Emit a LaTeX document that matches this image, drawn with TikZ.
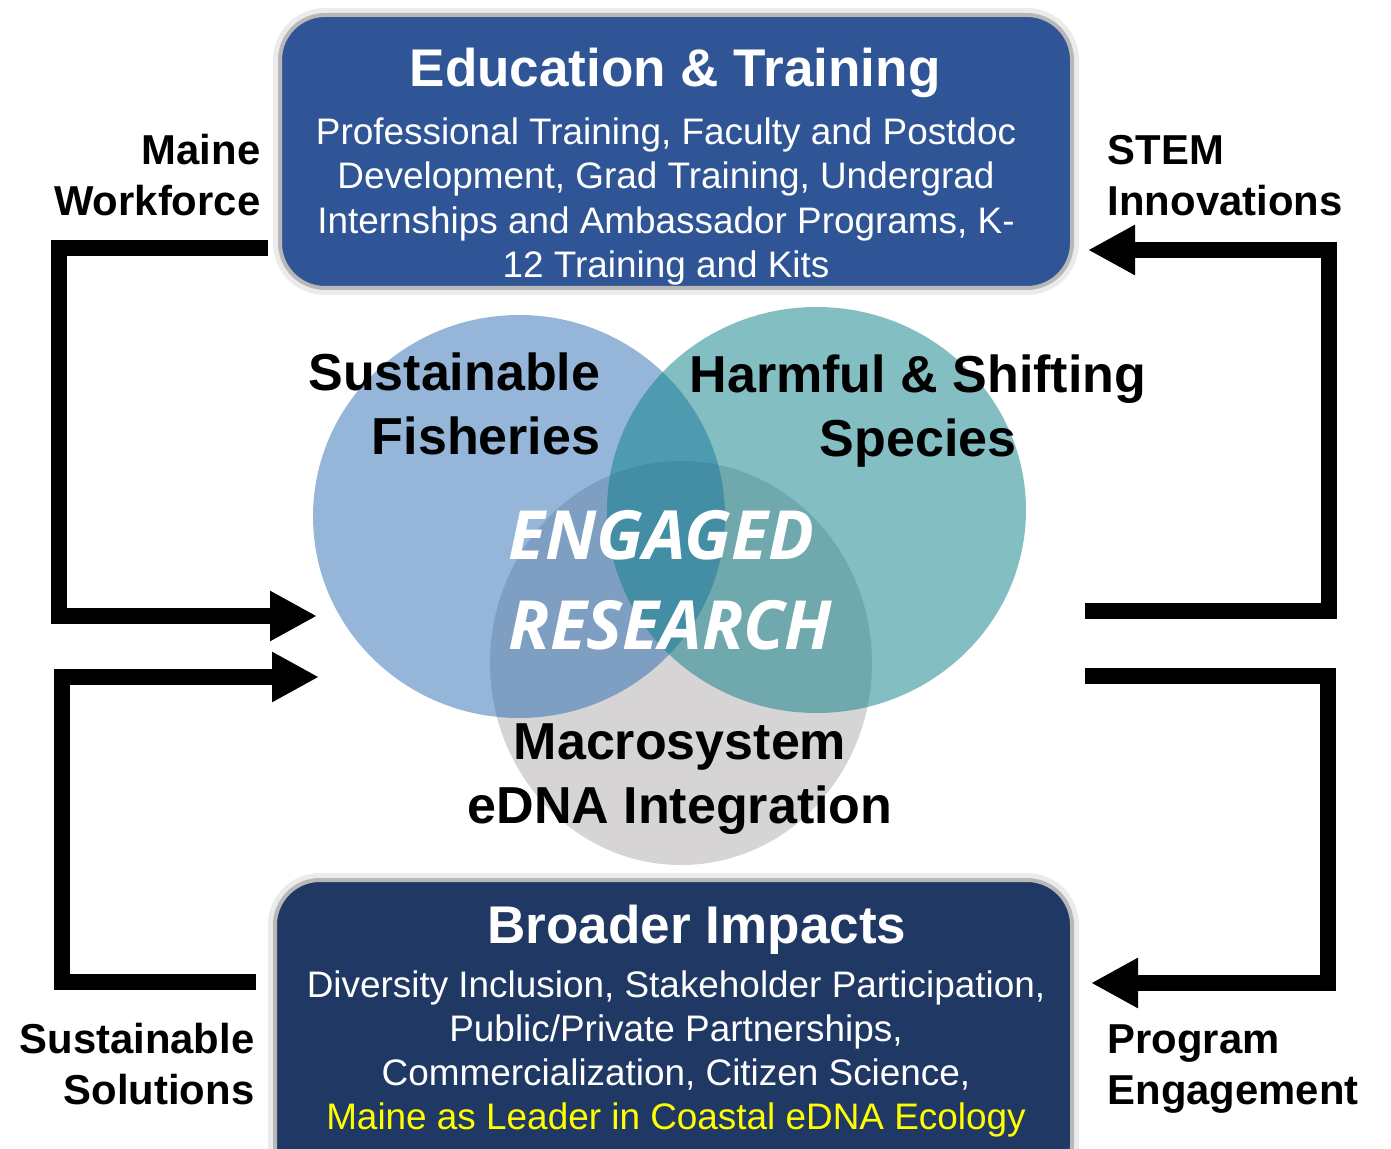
\documentclass[tikz,border=0pt]{standalone}
\usepackage{fontspec}
\setmainfont{Liberation Sans}
\newfontfamily\engagedfont{Open Sans}
\usetikzlibrary{arrows.meta,shapes.geometric,positioning}

\definecolor{edublue}{HTML}{2F5597}
\definecolor{impactnavy}{HTML}{203864}
\definecolor{fisheryblue}{RGB}{34,103,174}
\definecolor{speciesteal}{RGB}{9,127,135}
\definecolor{macrogray}{HTML}{D6D4D5}
\definecolor{leaderyellow}{HTML}{FFFF00}

\tikzset{
	panel/.style={rectangle, rounded corners=0.45cm, draw=black!28, line width=0.4mm,
		preaction={draw=black!8, line width=1.4mm}},
	paneltitle/.style={text=white, inner sep=0pt, font=\bfseries\fontsize{15.1pt}{18pt}\selectfont},
	panelbody/.style={text=white, inner sep=0pt, align=center, font=\fontsize{10.5pt}{12.6pt}\selectfont},
	sidelabel/.style={inner sep=0pt, font=\bfseries\fontsize{11.9pt}{14.5pt}\selectfont},
	arealabel/.style={inner sep=0pt, font=\bfseries\fontsize{14.8pt}{18.2pt}\selectfont},
	area/.style={ellipse, inner sep=0pt},
	feedback/.style={line width=0.155cm, -{Triangle[length=4.7mm, width=4.7mm]}}
}

\begin{document}
\begin{tikzpicture}
	
	\useasboundingbox (0cm,0cm) rectangle (13.91cm,11.48cm);
	
	\fill[white] (0cm,0cm) rectangle (13.91cm,11.48cm);
	
	% the three research areas
	\node(macro) [area, fill=macrogray, minimum width=3.82cm, minimum height=4.04cm] at (6.81cm,4.85cm) {};
	
	\node(fisheries) [area, fill=fisheryblue, fill opacity=0.48, minimum width=4.12cm, minimum height=4.03cm] at (5.19cm,6.315cm) {};
	
	\node(species) [area, fill=speciesteal, fill opacity=0.5, minimum width=4.19cm, minimum height=4.06cm] at (8.165cm,6.38cm) {};
	
	\node(fisherieslabel) [arealabel, align=right, anchor=east] at (6.01cm,7.44cm) {Sustainable\\Fisheries};
	
	\node(specieslabel) [arealabel, align=center] at (9.18cm,7.365cm) {Harmful \& Shifting\\Species};
	
	\node(macrolabel) [arealabel, align=center] at (6.8cm,3.69cm) {Macrosystem\\eDNA Integration};
	
	\node(engaged) [inner sep=0pt, align=left, anchor=west, text=white, font=\engagedfont\bfseries\itshape\fontsize{19.3pt}{25.6pt}\selectfont] at (5.08cm,5.68cm) {ENGAGED\\RESEARCH};
	
	% top and bottom panels
	\node(education) [panel, fill=edublue, minimum width=7.92cm, minimum height=2.73cm] at (6.76cm,9.965cm) {};
	
	\node(educationtitle) [paneltitle] at (6.75cm,10.755cm) {Education \& Training};
	
	\node(educationbody) [panelbody] at (6.66cm,9.465cm) {Professional Training, Faculty and Postdoc\\Development, Grad Training, Undergrad\\Internships and Ambassador Programs, K-\\12 Training and Kits};
	
	\node(impacts) [panel, fill=impactnavy, minimum width=7.97cm, minimum height=3.1cm] at (6.735cm,1.13cm) {};
	
	\node(impactstitle) [paneltitle] at (6.97cm,2.185cm) {Broader Impacts};
	
	\node(impactsbody) [panelbody] at (6.76cm,0.94cm) {Diversity Inclusion, Stakeholder Participation,\\Public/Private Partnerships,\\Commercialization, Citizen Science,\\\textcolor{leaderyellow}{Maine as Leader in Coastal eDNA Ecology}};
	
	% outcome labels
	\node(workforce) [sidelabel, align=right, anchor=east] at (2.61cm,9.725cm) {Maine\\Workforce};
	
	\node(stem) [sidelabel, align=left, anchor=west] at (11.07cm,9.725cm) {STEM\\Innovations};
	
	\node(solutions) [sidelabel, align=right, anchor=east] at (2.55cm,0.835cm) {Sustainable\\Solutions};
	
	\node(engagement) [sidelabel, align=left, anchor=west] at (11.07cm,0.79cm) {Program\\Engagement};
	
	% feedback loops
	\coordinate (workforcefrom) at (2.68cm,9cm);
	\coordinate (workforceto) at (3.17cm,5.32cm);
	\coordinate (solutionsfrom) at (2.56cm,1.66cm);
	\coordinate (solutionsto) at (3.19cm,4.71cm);
	\coordinate (stemfrom) at (10.85cm,5.37cm);
	\coordinate (stemto) at (10.88cm,8.98cm);
	\coordinate (engagementfrom) at (10.85cm,4.72cm);
	\coordinate (engagementto) at (10.91cm,1.65cm);
	
	\draw[feedback] (workforcefrom) -- ++(-2.09cm,0) |- (workforceto);
	
	\draw[feedback] (solutionsfrom) -- ++(-1.94cm,0) |- (solutionsto);
	
	\draw[feedback] (stemfrom) -- ++(2.44cm,0) |- (stemto);
	
	\draw[feedback] (engagementfrom) -- ++(2.43cm,0) |- (engagementto);
	
\end{tikzpicture}
\end{document}
